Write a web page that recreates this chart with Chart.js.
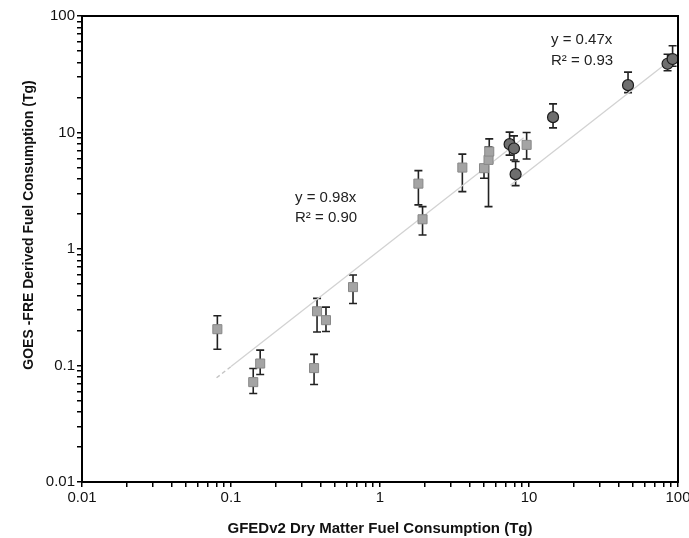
<!DOCTYPE html>
<html>
<head>
<meta charset="utf-8">
<script src="https://cdn.jsdelivr.net/npm/chart.js@4.4.1/dist/chart.umd.min.js"></script>
<style>
  html, body { margin: 0; padding: 0; background: #fff; }
  #wrap { width: 689px; height: 538px; }
</style>
</head>
<body>
<div id="wrap"><canvas id="fuelChart" width="689" height="538"></canvas></div>
<script>
// GFEDv2 (x) vs GOES-FRE (y), Tg
var sqX   = [0.081, 0.141, 0.157, 0.361, 0.378, 0.434, 0.659, 1.81, 1.93, 3.57, 4.99, 5.35, 5.41, 9.64];
var sqY   = [0.205, 0.072, 0.104, 0.095, 0.292, 0.245, 0.471, 3.64, 1.80, 5.00, 4.94, 5.82, 6.86, 7.83];
var sqLow = [0.138, 0.0575, 0.0838, 0.0687, 0.194, 0.196, 0.341, 2.39, 1.32, 3.11, 4.05, 2.31, 5.50, 5.93];
var sqHigh= [0.267, 0.0943, 0.1355, 0.1245, 0.377, 0.317, 0.598, 4.71, 2.31, 6.52, 5.27, 7.50, 8.82, 10.0];

var ciX   = [7.41, 7.93, 8.13, 14.5, 46.2, 85.1, 92.0];
var ciY   = [7.94, 7.29, 4.39, 13.55, 25.5, 38.9, 42.7];
var ciLow = [6.40, 5.80, 3.50, 10.96, 22.0, 33.9, 37.0];
var ciHigh= [10.07, 9.36, 5.63, 17.6, 33.0, 47.0, 55.6];

// regression fits y = slope * x
var fit1Slope = 0.98, fit1Range = [0.1, 9.2], fit1Dash = [0.08, 0.1];
var fit2Slope = 0.47, fit2Range = [7.5, 80];

var majorTicks = [0.01, 0.1, 1, 10, 100];

function pts(xs, ys) {
    return xs.map(function (x, i) { return { x: x, y: ys[i] }; });
}
function fitPts(slope, range) {
    return range.map(function (x) { return { x: x, y: slope * x }; });
}
function logTicks() {
    var t = [];
    for (var e = -2; e < 2; e++) {
        for (var m = 1; m < 10; m++) t.push(m * Math.pow(10, e));
    }
    t.push(100);
    return t;
}

var errorBars = {
    id: "errorBars",
    beforeDatasetsDraw: function (chart) {
        var ctx = chart.ctx, xs = chart.scales.x, ys = chart.scales.y;
        var sets = [[sqX, sqLow, sqHigh], [ciX, ciLow, ciHigh]];
        ctx.save();
        ctx.strokeStyle = "#222";
        ctx.lineWidth = 1.6;
        sets.forEach(function (s) {
            s[0].forEach(function (x, i) {
                var px = xs.getPixelForValue(x);
                var lo = ys.getPixelForValue(s[1][i]);
                var hi = ys.getPixelForValue(s[2][i]);
                ctx.beginPath();
                ctx.moveTo(px, lo); ctx.lineTo(px, hi);
                ctx.moveTo(px - 4, lo); ctx.lineTo(px + 4, lo);
                ctx.moveTo(px - 4, hi); ctx.lineTo(px + 4, hi);
                ctx.stroke();
            });
        });
        ctx.restore();
    }
};

var frameAndText = {
    id: "frameAndText",
    afterDraw: function (chart) {
        var ctx = chart.ctx, a = chart.chartArea;
        ctx.save();
        ctx.strokeStyle = "#000";
        ctx.lineWidth = 2;
        ctx.strokeRect(a.left, a.top, a.right - a.left, a.bottom - a.top);

        ctx.fillStyle = "#222";
        ctx.font = "15px 'Liberation Sans', Arial, sans-serif";
        ctx.textBaseline = "middle";
        ctx.fillText("y = 0.98x", 295, 198);
        ctx.fillText("R\u00B2 = 0.90", 295, 218);
        ctx.fillText("y = 0.47x", 551, 40);
        ctx.fillText("R\u00B2 = 0.93", 551, 61);

        ctx.translate(29, 225);
        ctx.rotate(-Math.PI / 2);
        ctx.textAlign = "center";
        ctx.font = "bold 14px 'Liberation Sans', Arial, sans-serif";
        ctx.fillStyle = "#111";
        ctx.fillText("GOES -FRE Derived Fuel Consumption (Tg)", 0, 0);
        ctx.restore();
    }
};

var axisFont = { family: "'Liberation Sans', Arial, sans-serif", size: 15 };

function axisOpts(extra) {
    var o = {
        type: "logarithmic",
        min: 0.01,
        max: 100,
        afterBuildTicks: function (scale) {
            scale.ticks = logTicks().map(function (v) { return { value: v }; });
        },
        ticks: {
            autoSkip: false,
            maxRotation: 0,
            color: "#111",
            font: axisFont,
            padding: 2,
            callback: function (v) {
                return majorTicks.indexOf(v) >= 0 ? String(v) : "";
            }
        },
        grid: { drawOnChartArea: false, drawTicks: true, tickLength: 5, color: "#000", lineWidth: 1.5 },
        border: { display: true, color: "#000", width: 2 }
    };
    for (var k in extra) o[k] = extra[k];
    return o;
}

new Chart("fuelChart", {
    type: "scatter",
    data: {
        datasets: [
            {
                data: pts(sqX, sqY),
                pointStyle: "rect",
                pointRadius: 6.4,
                backgroundColor: "#a4a4a4",
                borderColor: "#888",
                borderWidth: 1,
                order: 1
            },
            {
                data: pts(ciX, ciY),
                pointStyle: "circle",
                pointRadius: 5.5,
                backgroundColor: "#6e6e6e",
                borderColor: "#1c1c1c",
                borderWidth: 1.2,
                order: 0
            },
            {
                type: "line",
                data: fitPts(fit1Slope, fit1Range),
                borderColor: "#d2d2d2",
                borderWidth: 1.3,
                pointRadius: 0,
                order: 5
            },
            {
                type: "line",
                data: fitPts(fit1Slope, fit1Dash),
                borderColor: "#c4c4c4",
                borderWidth: 1.4,
                borderDash: [4, 3],
                pointRadius: 0,
                order: 5
            },
            {
                type: "line",
                data: fitPts(fit2Slope, fit2Range),
                borderColor: "#d2d2d2",
                borderWidth: 1.3,
                pointRadius: 0,
                order: 5
            }
        ]
    },
    options: {
        responsive: false,
        animation: false,
        layout: { padding: { left: 0, right: 11, top: 16, bottom: 0 } },
        plugins: { legend: { display: false }, tooltip: { enabled: false } },
        scales: {
            x: axisOpts({
                position: "bottom",
                afterFit: function (s) { s.height = 56; s.paddingRight = 0; s.paddingLeft = 0; },
                title: {
                    display: true,
                    text: "GFEDv2 Dry Matter Fuel Consumption (Tg)",
                    color: "#111",
                    font: { family: "'Liberation Sans', Arial, sans-serif", size: 15, weight: "bold" },
                    padding: { top: 4, bottom: 0 }
                }
            }),
            y: axisOpts({
                position: "left",
                afterFit: function (s) { s.width = 82; }
            })
        }
    },
    plugins: [errorBars, frameAndText]
});
</script>
</body>
</html>
